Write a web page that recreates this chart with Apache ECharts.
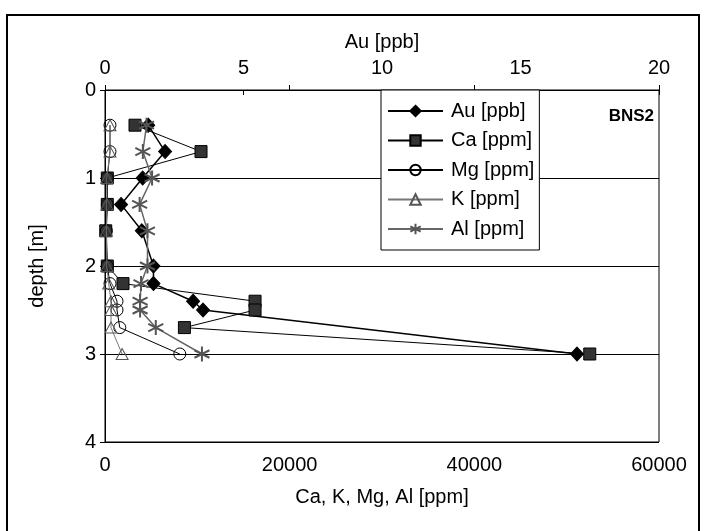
<!DOCTYPE html>
<html><head><meta charset="utf-8">
<script src="https://cdn.jsdelivr.net/npm/echarts@6/dist/echarts.min.js"></script>
<style>html,body{margin:0;padding:0;background:#fff}#c{width:704px;height:531px}</style>
</head><body><div id="c"></div>
<script>
const depth = [0.4, 0.7, 1.0, 1.3, 1.6, 2.0, 2.2, 2.4, 2.5, 2.7, 3.0];
const au = [1.56, 2.17, 1.36, 0.58, 1.33, 1.75, 1.75, 3.18, 3.54, null, 17.04];
const ca = [3250, 10400, 250, 250, 80, 250, 1950, 16250, 16250, 8600, 52500];
const mg = [540, 540, 250, 250, 150, 250, 540, 1300, 1300, 1600, 8100];
const k = [540, 540, 200, 200, 150, 200, 400, 650, 650, 650, 1850];
const al = [4500, 4100, 5100, 3750, 4600, 4600, 3900, 3800, 3800, 5500, 10500];
const seriesNames = ['Au [ppb]', 'Ca [ppm]', 'Mg [ppm]', 'K [ppm]', 'Al [ppm]'];

const pairs = (vals) => vals.map((v, i) => v == null ? null : [v, depth[i]]).filter(p => p);
const FONT = '"Liberation Sans", Arial, sans-serif';
const FS = 20;
const star = 'path://M0,-1L0,1M-0.866,-0.5L0.866,0.5M-0.866,0.5L0.866,-0.5';
const plain = (v) => String(v);

const chart = echarts.init(document.getElementById('c'), null, {renderer: 'canvas'});
chart.setOption({
  animation: false,
  textStyle: {fontFamily: FONT},
  grid: {left: 105, right: 45, top: 90, bottom: 89, show: true, borderColor: '#000', borderWidth: 1, backgroundColor: 'transparent'},
  legend: {
    orient: 'vertical', left: 381, top: 90,
    data: seriesNames,
    itemWidth: 55, itemHeight: 13, itemGap: 9.5,
    padding: [11, 5, 11, 6],
    borderColor: '#000', borderWidth: 1, backgroundColor: '#fff',
    textStyle: {fontSize: FS, color: '#000', fontFamily: FONT, lineHeight: 20, padding: [0, 0, 0, 3]}
  },
  xAxis: [
    {type: 'value', position: 'bottom', min: 0, max: 60000, interval: 20000,
     name: 'Ca, K, Mg, Al [ppm]', nameLocation: 'middle', nameGap: 45,
     nameTextStyle: {fontSize: FS, color: '#000', fontFamily: FONT},
     axisLine: {show: true, lineStyle: {color: '#000', width: 1}},
     axisTick: {show: true, inside: true, length: 5, lineStyle: {color: '#000'}},
     axisLabel: {fontSize: FS, color: '#000', margin: 13, fontFamily: FONT, formatter: plain},
     splitLine: {show: false}},
    {type: 'value', position: 'top', min: 0, max: 20, interval: 5,
     name: 'Au [ppb]', nameLocation: 'middle', nameGap: 38,
     nameTextStyle: {fontSize: FS, color: '#000', fontFamily: FONT},
     axisLine: {show: true, lineStyle: {color: '#000', width: 1}},
     axisTick: {show: true, inside: true, length: 5, lineStyle: {color: '#000'}},
     axisLabel: {fontSize: FS, color: '#000', margin: 12, fontFamily: FONT, formatter: plain},
     splitLine: {show: false}}
  ],
  yAxis: {type: 'value', inverse: true, min: 0, max: 4, interval: 1,
    name: 'depth [m]', nameLocation: 'middle', nameGap: 58, nameRotate: 90,
    nameTextStyle: {fontSize: FS, color: '#000', fontFamily: FONT},
    axisLine: {show: true, lineStyle: {color: '#000', width: 1}},
    axisTick: {show: true, inside: false, length: 5, lineStyle: {color: '#000'}},
    axisLabel: {fontSize: FS, color: '#000', margin: 9, fontFamily: FONT},
    splitLine: {show: true, lineStyle: {color: '#000', width: 1}}},
  series: [
    {name: seriesNames[0], type: 'line', xAxisIndex: 1, data: pairs(au), connectNulls: true,
     symbol: 'diamond', symbolSize: [13, 14],
     lineStyle: {color: '#000', width: 1.5}, itemStyle: {color: '#000', borderColor: '#000', borderWidth: 1}, z: 2},
    {name: seriesNames[1], type: 'line', xAxisIndex: 0, data: pairs(ca),
     symbol: 'rect', symbolSize: 12,
     lineStyle: {color: '#000', width: 1}, itemStyle: {color: '#333', borderColor: '#000', borderWidth: 1}, z: 3},
    {name: seriesNames[2], type: 'line', xAxisIndex: 0, data: pairs(mg),
     symbol: 'circle', symbolSize: 12,
     lineStyle: {color: '#000', width: 1}, itemStyle: {color: 'rgba(255,255,255,0)', borderColor: '#000', borderWidth: 1}, z: 4},
    {name: seriesNames[3], type: 'line', xAxisIndex: 0, data: pairs(k),
     symbol: 'triangle', symbolSize: [12, 11],
     lineStyle: {color: '#777', width: 1}, itemStyle: {color: 'rgba(255,255,255,0)', borderColor: '#555', borderWidth: 1}, z: 5},
    {name: seriesNames[4], type: 'line', xAxisIndex: 0, data: pairs(al),
     symbol: star, symbolSize: 15,
     lineStyle: {color: '#666', width: 1.5}, itemStyle: {color: 'none', borderColor: '#555', borderWidth: 2}, z: 6}
  ],
  graphic: [
    {type: 'rect', shape: {x: 7, y: 15, width: 692, height: 520}, style: {fill: 'none', stroke: '#000', lineWidth: 2}, silent: true, z: 100},
    {type: 'text', right: 50, top: 108, style: {text: 'BNS2', font: 'bold 17px "Liberation Sans", Arial, sans-serif', fill: '#000'}, z: 100}
  ]
});
</script></body></html>
